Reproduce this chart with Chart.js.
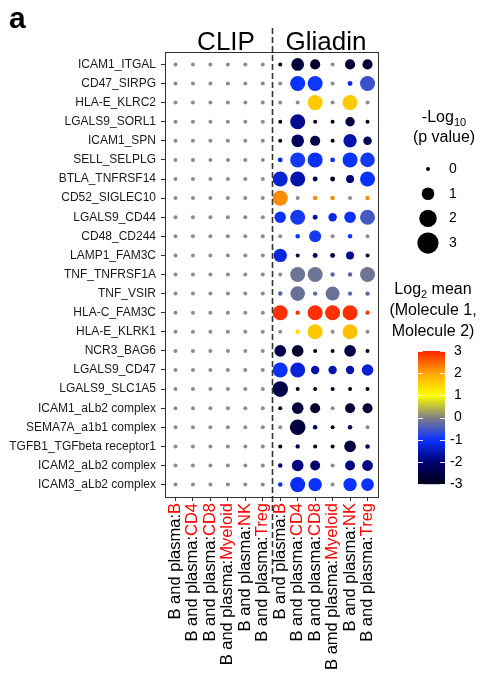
<!DOCTYPE html>
<html>
<head>
<meta charset="utf-8">
<script src="https://cdn.jsdelivr.net/npm/chart.js@4/dist/chart.umd.min.js"></script>
<style>
  html, body { margin: 0; padding: 0; background: #fff; }
  #wrap { width: 483px; height: 682px; position: relative; }
</style>
</head>
<body>
<div id="wrap"><canvas id="chart" width="483" height="682"></canvas></div>
<script>
// --- Data ---
const pairs = [
  'ICAM1_ITGAL', 'CD47_SIRPG', 'HLA-E_KLRC2', 'LGALS9_SORL1', 'ICAM1_SPN',
  'SELL_SELPLG', 'BTLA_TNFRSF14', 'CD52_SIGLEC10', 'LGALS9_CD44', 'CD48_CD244',
  'LAMP1_FAM3C', 'TNF_TNFRSF1A', 'TNF_VSIR', 'HLA-C_FAM3C', 'HLA-E_KLRK1',
  'NCR3_BAG6', 'LGALS9_CD47', 'LGALS9_SLC1A5', 'ICAM1_aLb2 complex',
  'SEMA7A_a1b1 complex', 'TGFB1_TGFbeta receptor1', 'ICAM2_aLb2 complex', 'ICAM3_aLb2 complex'
];
const groups = ['CLIP', 'Gliadin'];
const colPrefix = [
  'B and plasma:', 'B and plasma:', 'B and plasma:', 'B and plasma:', 'B and plasma:', 'B and plasma:',
  'B and plasma:', 'B and plasma:', 'B and plasma:', 'B amd plasma:', 'B and plasma:', 'B and plasma:'
];
const colType = ['B', 'CD4', 'CD8', 'Myeloid', 'NK', 'Treg', 'B', 'CD4', 'CD8', 'Myeloid', 'NK', 'Treg'];

// -log10(p value), one row per pair, CLIP columns then Gliadin columns
const pval = [
  [0, 0, 0, 0, 0, 0,  0, 1.0, 0.6, 0, 0.6, 0.6],
  [0, 0, 0, 0, 0, 0,  0, 1.45, 1.45, 0, 0.05, 1.45],
  [0, 0, 0, 0, 0, 0,  0, 0, 1.45, 0, 1.45, 0],
  [0, 0, 0, 0, 0, 0,  0, 1.45, 0, 0, 0.5, 0],
  [0, 0, 0, 0, 0, 0,  0, 1.0, 0.6, 0, 1.13, 0.4],
  [0, 0, 0, 0, 0, 0,  0.05, 1.45, 1.45, 0.05, 1.45, 1.37],
  [0, 0, 0, 0, 0, 0,  1.45, 1.45, 0.06, 0.06, 0.33, 1.45],
  [0, 0, 0, 0, 0, 0,  1.5, 0, 0.03, 0.03, 0, 0.03],
  [0, 0, 0, 0, 0, 0,  0.8, 1.45, 0.06, 0.38, 0.83, 1.45],
  [0, 0, 0, 0, 0, 0,  0, 0.03, 0.89, 0, 0.03, 0],
  [0, 0, 0, 0, 0, 0,  1.13, 0, 0.06, 0.06, 0.33, 0],
  [0, 0, 0, 0, 0, 0,  0, 1.45, 1.45, 0.03, 0.03, 1.45],
  [0, 0, 0, 0, 0, 0,  0.03, 1.37, 0.02, 1.25, 0.02, 0.02],
  [0, 0, 0, 0, 0, 0,  1.45, 0.02, 1.45, 1.45, 1.45, 0.02],
  [0, 0, 0, 0, 0, 0,  0, 0.02, 1.45, 0, 1.45, 0],
  [0, 0, 0, 0, 0, 0,  0.83, 0.83, 0, 0, 0.83, 0],
  [0, 0, 0, 0, 0, 0,  1.45, 1.45, 0.38, 0.38, 0.38, 0.83],
  [0, 0, 0, 0, 0, 0,  1.58, 0, 0, 0, 0, 0],
  [0, 0, 0, 0, 0, 0,  0, 0.83, 0.58, 0, 0.58, 0.58],
  [0, 0, 0, 0, 0, 0,  0, 1.58, 0.03, 0, 0.03, 0],
  [0, 0, 0, 0, 0, 0,  0, 0.02, 0, 0, 0.83, 0.03],
  [0, 0, 0, 0, 0, 0,  0.03, 0.83, 0.58, 0, 0.58, 0.7],
  [0, 0, 0, 0, 0, 0,  0.03, 1.45, 1.13, 0, 1.13, 1.0]
];

// log2 mean (Molecule 1, Molecule 2); null = not expressed (grey)
const logMean = [
  [null, null, null, null, null, null,  -2.8, -2.6, -2.8, null, -2.7, -2.7],
  [null, null, null, null, null, null,  null, -1.0, -0.95, null, -1.1, -0.6],
  [null, null, null, null, null, null,  null, null, 1.6, null, 1.6, null],
  [null, null, null, null, null, null,  -3, -1.8, -3, -3, -2.6, -3],
  [null, null, null, null, null, null,  -3, -2.2, -2.5, -3, -1.6, -2.3],
  [null, null, null, null, null, null,  -1.2, -0.9, -1.0, -1.1, -1.0, -0.9],
  [null, null, null, null, null, null,  -1.3, -1.6, -2.3, -2.8, -2.0, -1.0],
  [null, null, null, null, null, null,  2.2, null, 2.2, 2.2, null, 2.2],
  [null, null, null, null, null, null,  -1.0, -0.9, -1.7, -1.2, -1.0, -0.5],
  [null, null, null, null, null, null,  null, -1.0, -0.9, null, -1.0, null],
  [null, null, null, null, null, null,  -1.2, -2.6, -2.3, -2.5, -1.8, -2.6],
  [null, null, null, null, null, null,  null, -0.15, -0.15, -0.3, -0.3, -0.15],
  [null, null, null, null, null, null,  -0.35, -0.2, -0.25, -0.2, -0.3, -0.3],
  [null, null, null, null, null, null,  2.9, 2.9, 2.9, 2.9, 2.9, 2.8],
  [null, null, null, null, null, null,  null, 1.4, 1.6, null, 1.7, null],
  [null, null, null, null, null, null,  -2.4, -2.8, -3, -3, -2.5, -3],
  [null, null, null, null, null, null,  -1.0, -1.3, -1.6, -1.6, -1.6, -1.3],
  [null, null, null, null, null, null,  -2.5, -3, -3, -3, -3, -3],
  [null, null, null, null, null, null,  -3, -2.6, -2.8, null, -2.7, -2.7],
  [null, null, null, null, null, null,  null, -2.6, -2.2, -3, -2.2, null],
  [null, null, null, null, null, null,  -3, -2.4, -3, -3, -2.6, -2.2],
  [null, null, null, null, null, null,  -2.1, -1.9, -2.1, null, -1.9, -1.9],
  [null, null, null, null, null, null,  -1.0, -1.1, -1.0, null, -1.0, -1.0]
];

const sizeLegend = [0, 1, 2, 3];
const colorTicks = [3, 2, 1, 0, -1, -2, -3];

// --- Scales for size and colour ---
const FONT = '"Liberation Sans", Arial, sans-serif';
const NA_COLOR = '#8c8c8c';
const colorStops = [
  [-3, [0, 0, 25]], [-2, [0, 0, 115]], [-1, [10, 50, 255]],
  [0, [128, 128, 128]], [1, [255, 255, 0]], [2, [255, 165, 0]], [3, [255, 35, 0]]
];

function colorFor(v) {
  if (v === null) return NA_COLOR;
  v = Math.max(-3, Math.min(3, v));
  for (let i = 0; i < colorStops.length - 1; i++) {
    const [a, ca] = colorStops[i];
    const [b, cb] = colorStops[i + 1];
    if (v <= b) {
      const t = (v - a) / (b - a);
      const c = ca.map((x, k) => Math.round(x + (cb[k] - x) * t));
      return `rgb(${c[0]},${c[1]},${c[2]})`;
    }
  }
  return 'rgb(255,35,0)';
}

function radiusFor(p) {
  return Math.sqrt(4 + 36 * p);
}

// build bubble points
const points = [];
pairs.forEach((name, row) => {
  colType.forEach((t, col) => {
    points.push({ x: col, y: row, r: radiusFor(pval[row][col]), c: colorFor(logMean[row][col]) });
  });
});

// --- Extra drawing: frame, divider, titles, x labels, legends ---
const decorations = {
  id: 'decorations',
  afterDraw(chart) {
    const { ctx, chartArea: a, scales: { x } } = chart;
    ctx.save();

    // frame
    ctx.strokeStyle = '#333';
    ctx.lineWidth = 1;
    ctx.strokeRect(Math.round(a.left) + 0.5, Math.round(a.top) + 0.5, Math.round(a.right - a.left), Math.round(a.bottom - a.top));

    // dashed divider between CLIP and Gliadin
    const xd = Math.round(x.getPixelForValue(5.5)) + 0.5;
    ctx.setLineDash([6, 3]);
    ctx.lineWidth = 1.6;
    ctx.beginPath();
    ctx.moveTo(xd, 28);
    ctx.lineTo(xd, 582);
    ctx.stroke();
    ctx.setLineDash([]);

    // panel letter
    ctx.fillStyle = '#000';
    ctx.font = 'bold 30px ' + FONT;
    ctx.textAlign = 'left';
    ctx.textBaseline = 'alphabetic';
    ctx.fillText('a', 9, 28);

    // group titles
    ctx.font = '26px ' + FONT;
    ctx.textAlign = 'center';
    ctx.fillText(groups[0], 226, 50);
    ctx.fillText(groups[1], 326, 50);

    // x labels, two colours
    ctx.font = '16.5px ' + FONT;
    ctx.textBaseline = 'middle';
    colType.forEach((t, i) => {
      const px = x.getPixelForValue(i);
      ctx.save();
      ctx.translate(px, a.bottom + 6);
      ctx.rotate(-Math.PI / 2);
      ctx.textAlign = 'right';
      ctx.fillStyle = '#ff0000';
      ctx.fillText(t, 0, 0);
      const w = ctx.measureText(t).width;
      ctx.fillStyle = '#000';
      ctx.fillText(colPrefix[i], -w, 0);
      ctx.restore();
    });

    // size legend
    ctx.fillStyle = '#000';
    ctx.textBaseline = 'alphabetic';
    ctx.font = '16px ' + FONT;
    ctx.textAlign = 'left';
    const lw = ctx.measureText('-Log').width;
    ctx.font = '11px ' + FONT;
    const sw = ctx.measureText('10').width;
    let sx = 444 - (lw + sw) / 2;
    ctx.font = '16px ' + FONT;
    ctx.fillText('-Log', sx, 122);
    ctx.font = '11px ' + FONT;
    ctx.fillText('10', sx + lw, 126);
    ctx.font = '16px ' + FONT;
    ctx.textAlign = 'center';
    ctx.fillText('(p value)', 444, 142);

    ctx.font = '14px ' + FONT;
    sizeLegend.forEach((v, i) => {
      const cy = 169 + i * 24.7;
      ctx.beginPath();
      ctx.arc(428, cy, radiusFor(v), 0, Math.PI * 2);
      ctx.fill();
      ctx.textAlign = 'left';
      ctx.textBaseline = 'middle';
      ctx.fillText(String(v), 449, cy);
    });

    // colour legend title
    ctx.textBaseline = 'alphabetic';
    ctx.font = '16px ' + FONT;
    ctx.textAlign = 'left';
    const t1 = 'Log', t2 = ' mean';
    const w1 = ctx.measureText(t1).width, w3 = ctx.measureText(t2).width;
    ctx.font = '11px ' + FONT;
    const w2 = ctx.measureText('2').width;
    sx = 433 - (w1 + w2 + w3) / 2;
    ctx.font = '16px ' + FONT;
    ctx.fillText(t1, sx, 294);
    ctx.fillText(t2, sx + w1 + w2, 294);
    ctx.font = '11px ' + FONT;
    ctx.fillText('2', sx + w1, 298);
    ctx.font = '16px ' + FONT;
    ctx.textAlign = 'center';
    ctx.fillText('(Molecule 1,', 433, 315);
    ctx.fillText('Molecule 2)', 433, 336);

    // colour bar
    const barL = 418, barW = 27, barTop = 351, unit = 22.2;
    const barBot = barTop + 6 * unit;
    const grad = ctx.createLinearGradient(0, barBot, 0, barTop);
    for (let k = 0; k <= 60; k++) {
      const v = -3 + k * 0.1;
      grad.addColorStop(k / 60, colorFor(v));
    }
    ctx.fillStyle = grad;
    ctx.fillRect(barL, barTop, barW, barBot - barTop);
    ctx.strokeStyle = 'rgba(255,255,255,0.9)';
    ctx.lineWidth = 1;
    ctx.font = '14px ' + FONT;
    ctx.fillStyle = '#000';
    ctx.textAlign = 'left';
    ctx.textBaseline = 'middle';
    colorTicks.forEach(v => {
      const ty = barTop + (3 - v) * unit;
      const yy = Math.round(ty) + 0.5;
      ctx.beginPath();
      ctx.moveTo(barL, yy); ctx.lineTo(barL + 5, yy);
      ctx.moveTo(barL + barW - 5, yy); ctx.lineTo(barL + barW, yy);
      ctx.stroke();
      ctx.fillText(String(v), v < 0 ? 450 : 454, ty);
    });

    ctx.restore();
  }
};

// --- Chart ---
const ctx = document.getElementById('chart').getContext('2d');
new Chart(ctx, {
  type: 'bubble',
  data: {
    datasets: [{
      data: points,
      backgroundColor: c => (c.raw ? c.raw.c : NA_COLOR),
      borderWidth: 0,
      hoverRadius: 0
    }]
  },
  options: {
    responsive: false,
    animation: false,
    events: [],
    layout: { padding: { left: 0, top: 52, right: 105, bottom: 0 } },
    plugins: { legend: { display: false }, tooltip: { enabled: false } },
    scales: {
      x: {
        type: 'linear',
        min: -0.6,
        max: 11.6,
        afterBuildTicks: s => { s.ticks = colType.map((_, i) => ({ value: i })); },
        afterFit: s => { s.height = 185; },
        ticks: { callback: () => '', autoSkip: false },
        grid: { drawOnChartArea: false, drawTicks: true, tickLength: 4, color: '#333' },
        border: { display: false }
      },
      y: {
        type: 'linear',
        reverse: true,
        min: -0.65,
        max: 22.65,
        afterBuildTicks: s => { s.ticks = pairs.map((_, i) => ({ value: i })); },
        afterFit: s => { s.width = 165; },
        ticks: {
          autoSkip: false,
          padding: 5,
          color: '#1a1a1a',
          font: { family: FONT, size: 12 },
          callback: v => pairs[v]
        },
        grid: { drawOnChartArea: false, drawTicks: true, tickLength: 4, color: '#333' },
        border: { display: false }
      }
    }
  },
  plugins: [decorations]
});
</script>
</body>
</html>
